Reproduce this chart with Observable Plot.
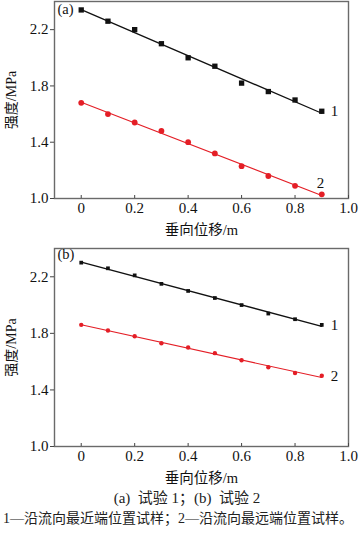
<!DOCTYPE html>
<html>
<head>
<meta charset="utf-8">
<script src="https://cdn.jsdelivr.net/npm/d3@7"></script>
<script src="https://cdn.jsdelivr.net/npm/@observablehq/plot@0.6"></script>
<style>
  body { margin: 0; background: #fff; width: 364px; }
  .cap { font-family: "Liberation Serif", "Noto Sans CJK SC", serif; color: #222; white-space: nowrap; }
  svg { display: block; }
</style>
</head>
<body>
<div id="a"></div>
<div id="b"></div>
<div class="cap" style="text-align:center; font-size:15px; line-height:20px; padding-left:10px;">(a)&nbsp; 试验 1；(b)&nbsp; 试验 2</div>
<div class="cap" style="font-size:14px; line-height:22px; padding-left:3px;">1—沿流向最近端位置试样；2—沿流向最远端位置试样。</div>
<script>
const displacement = [0, 0.1, 0.2, 0.3, 0.4, 0.5, 0.6, 0.7, 0.8, 0.9];
const testA_near = [2.34, 2.26, 2.20, 2.10, 2.00, 1.94, 1.82, 1.76, 1.70, 1.62];
const testA_far  = [1.68, 1.60, 1.54, 1.48, 1.40, 1.32, 1.23, 1.16, 1.09, 1.03];
const testB_near = [2.30, 2.26, 2.21, 2.15, 2.10, 2.05, 2.00, 1.94, 1.90, 1.86];
const testB_far  = [1.86, 1.82, 1.78, 1.73, 1.70, 1.66, 1.61, 1.56, 1.52, 1.50];
const xTicks = [0, 0.2, 0.4, 0.6, 0.8, 1.0];
const yTicks = [1.0, 1.4, 1.8, 2.2];
const panelLabels = ["(a)", "(b)"];
const seriesLabels = ["1", "2"];
const xTitle = "垂向位移/m";
const yTitle = "强度/MPa";

const FONT = '"Liberation Serif", "Noto Sans CJK SC", serif';
const RED = "#e41e26";

function toRows(vals) { return displacement.map((x, i) => ({x, y: vals[i]})); }

function panel({near, far, label, height, mt, mb, rSq, rCi, lab2dx, lab2dy, labDy}) {
  const n = toRows(near), f = toRows(far);
  const lastN = n.slice(-1), lastF = f.slice(-1);
  return Plot.plot({
    width: 364, height,
    marginLeft: 54, marginRight: 16, marginTop: mt, marginBottom: mb,
    style: {fontFamily: FONT, fontSize: "15px", color: "#111", background: "#fff"},
    x: {domain: [-0.1, 1.0]},
    y: {domain: [1.0, 2.4]},
    marks: [
      Plot.frame({stroke: "#6a6a6a", strokeWidth: 1.4}),
      Plot.axisX({ticks: xTicks, tickSize: -3, tickPadding: 7, tickFormat: d => d === 0 ? "0" : d.toFixed(1),
        label: null, fontSize: 15, stroke: "#444"}),
      Plot.axisX({ticks: [], label: xTitle, labelAnchor: "center", labelArrow: "none", labelOffset: 36, fontSize: 14.5}),
      Plot.axisY({ticks: yTicks, tickSize: 4, tickPadding: 2, tickFormat: d => d.toFixed(1),
        label: null, fontSize: 15, stroke: "#444"}),
      Plot.axisY({ticks: [], label: yTitle, labelAnchor: "center", labelArrow: "none", labelOffset: 48, fontSize: 14}),
      Plot.linearRegressionY(n, {x: "x", y: "y", ci: 0, stroke: "#111", strokeWidth: 1.3}),
      Plot.linearRegressionY(f, {x: "x", y: "y", ci: 0, stroke: RED, strokeWidth: 1.1}),
      Plot.dot(n, {x: "x", y: "y", symbol: "square", r: rSq, fill: "#111"}),
      Plot.dot(f, {x: "x", y: "y", symbol: "circle", r: rCi, fill: RED}),
      Plot.text(lastN, {x: "x", y: "y", text: () => seriesLabels[0], dx: 9, textAnchor: "start", fontSize: 15}),
      Plot.text(lastF, {x: "x", y: "y", text: () => seriesLabels[1], dx: lab2dx, dy: lab2dy, textAnchor: "start", fontSize: 15}),
      Plot.text([label], {frameAnchor: "top-left", text: d => d, dx: 3, dy: labDy, fontSize: 14.5, lineAnchor: "top"})
    ]
  });
}

document.getElementById("a").append(panel({near: testA_near, far: testA_far, label: panelLabels[0],
  height: 236, mt: 1, mb: 38, rSq: 3.0, rCi: 2.9, lab2dx: -5, lab2dy: -11, labDy: 2}));
document.getElementById("b").append(panel({near: testB_near, far: testB_far, label: panelLabels[1],
  height: 252, mt: 12, mb: 42, rSq: 2.1, rCi: 2.2, lab2dx: 9, lab2dy: 0, labDy: 0}));
</script>
</body>
</html>
